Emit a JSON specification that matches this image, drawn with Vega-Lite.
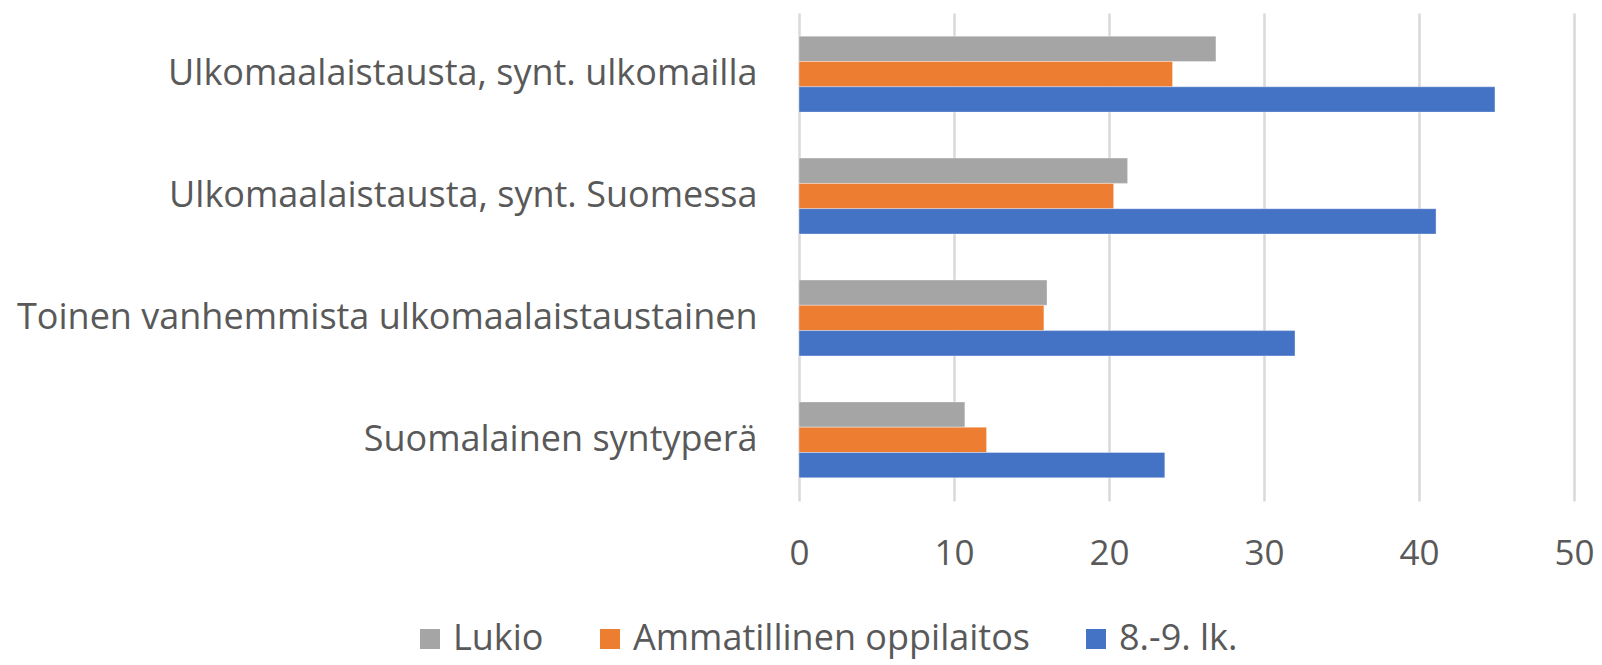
{
  "$schema": "https://vega.github.io/schema/vega-lite/v6.json",
  "width": 775,
  "height": 488,
  "autosize": {"type": "none"},
  "padding": {"left": 799, "top": 13, "right": 28, "bottom": 164},
  "background": "white",
  "config": {
    "view": {"stroke": null},
    "font": "Open Sans",
    "axis": {"labelFont": "Open Sans", "labelColor": "#595959"},
    "legend": {"labelFont": "Open Sans", "labelColor": "#595959"}
  },
  "data": {
    "values": [
      {"ryhma": "Ulkomaalaistausta, synt. ulkomailla", "sarja": "Lukio", "arvo": 26.9},
      {"ryhma": "Ulkomaalaistausta, synt. ulkomailla", "sarja": "Ammatillinen oppilaitos", "arvo": 24.1},
      {"ryhma": "Ulkomaalaistausta, synt. ulkomailla", "sarja": "8.-9. lk.", "arvo": 44.9},
      {"ryhma": "Ulkomaalaistausta, synt. Suomessa", "sarja": "Lukio", "arvo": 21.2},
      {"ryhma": "Ulkomaalaistausta, synt. Suomessa", "sarja": "Ammatillinen oppilaitos", "arvo": 20.3},
      {"ryhma": "Ulkomaalaistausta, synt. Suomessa", "sarja": "8.-9. lk.", "arvo": 41.1},
      {"ryhma": "Toinen vanhemmista ulkomaalaistaustainen", "sarja": "Lukio", "arvo": 16.0},
      {"ryhma": "Toinen vanhemmista ulkomaalaistaustainen", "sarja": "Ammatillinen oppilaitos", "arvo": 15.8},
      {"ryhma": "Toinen vanhemmista ulkomaalaistaustainen", "sarja": "8.-9. lk.", "arvo": 32.0},
      {"ryhma": "Suomalainen syntyperä", "sarja": "Lukio", "arvo": 10.7},
      {"ryhma": "Suomalainen syntyperä", "sarja": "Ammatillinen oppilaitos", "arvo": 12.1},
      {"ryhma": "Suomalainen syntyperä", "sarja": "8.-9. lk.", "arvo": 23.6}
    ]
  },
  "mark": {"type": "bar", "stroke": "white", "strokeWidth": 0.6, "strokeOpacity": 0.6},
  "encoding": {
    "y": {
      "field": "ryhma",
      "type": "nominal",
      "sort": null,
      "title": null,
      "scale": {"paddingInner": 0.377, "paddingOuter": 0.19},
      "axis": {"domain": false, "ticks": false, "labelFontSize": 36, "labelPadding": 42, "labelLimit": 900}
    },
    "yOffset": {
      "field": "sarja",
      "type": "nominal",
      "sort": ["Lukio", "Ammatillinen oppilaitos", "8.-9. lk."],
      "scale": {"paddingInner": 0, "paddingOuter": 0}
    },
    "x": {
      "field": "arvo",
      "type": "quantitative",
      "title": null,
      "scale": {"domain": [0, 50], "nice": false},
      "axis": {
        "values": [0, 10, 20, 30, 40, 50],
        "domain": false,
        "ticks": false,
        "grid": true,
        "gridColor": "#D9D9D9",
        "gridWidth": 2.5,
        "labelFontSize": 35,
        "labelPadding": 35,
        "labelFlush": false
      }
    },
    "color": {
      "field": "sarja",
      "type": "nominal",
      "sort": ["Lukio", "Ammatillinen oppilaitos", "8.-9. lk."],
      "scale": {"domain": ["Lukio", "Ammatillinen oppilaitos", "8.-9. lk."], "range": ["#A5A5A5", "#ED7D31", "#4472C4"]},
      "legend": {
        "title": null,
        "orient": "none",
        "direction": "horizontal",
        "legendX": -387,
        "legendY": 608,
        "symbolType": "square",
        "symbolSize": 400,
        "symbolStrokeWidth": 0,
        "labelFontSize": 36,
        "labelLimit": 600,
        "labelOffset": 5,
        "columnPadding": 48
      }
    }
  }
}
